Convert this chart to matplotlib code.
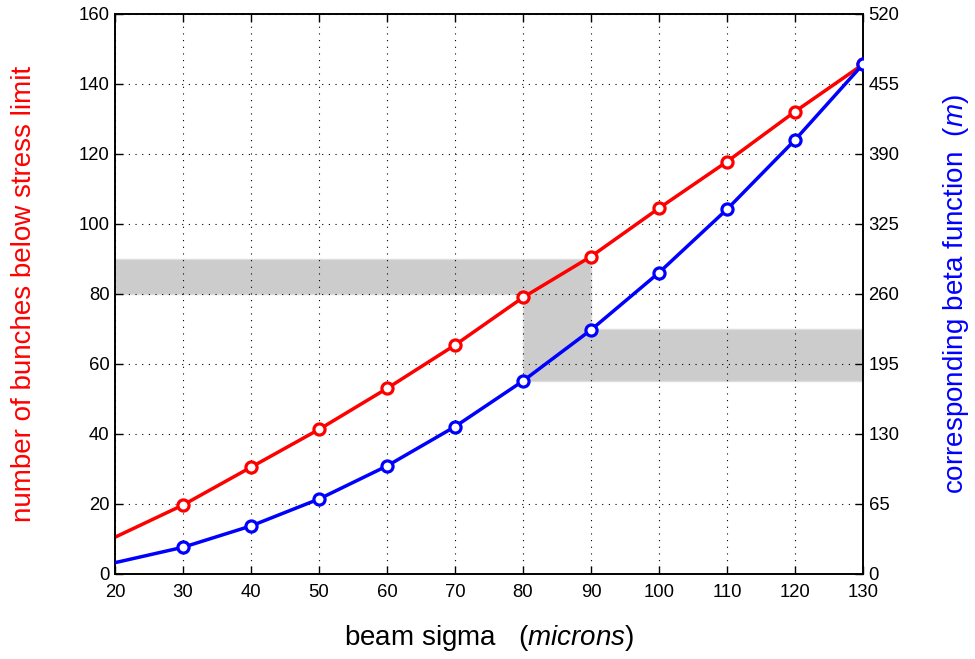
import numpy as np
import matplotlib.pyplot as plt

plt.rcParams['font.family'] = ['Liberation Sans', 'DejaVu Sans']
plt.rcParams['mathtext.fontset'] = 'custom'
plt.rcParams['mathtext.rm'] = 'Liberation Sans'
plt.rcParams['mathtext.it'] = 'Liberation Sans:italic'

# beam sigma (microns)
sigma = [20, 30, 40, 50, 60, 70, 80, 90, 100, 110, 120, 130]
# number of bunches below stress limit (left axis)
bunches = [10.5, 19.7, 30.5, 41.3, 53.0, 65.4, 79.0, 90.7, 104.5, 117.8, 132.1, 145.6]
# corresponding beta function in m (right axis)
beta = [10.5, 24.8, 44.6, 69.6, 100.3, 136.8, 179.2, 226.6, 279.8, 338.6, 403.0, 473.3]

# shaded working region, in left-axis units
band_x = [20, 90, 90, 130, 130, 80, 80, 20]
band_y = [90, 90, 70, 70, 55, 55, 80, 80]

fig = plt.figure(figsize=(9.75, 6.59), dpi=100)
ax = fig.add_axes([0.1179, 0.129, 0.7672, 0.8498])
ax2 = ax.twinx()

ax.fill(band_x, band_y, color='#cccccc', edgecolor='#dddddd', lw=1, zorder=0)

marks = list(range(1, len(sigma)))
ax.plot(sigma, bunches, color='red', lw=2.5, marker='o', markersize=8,
        markerfacecolor='white', markeredgewidth=2.3, markevery=marks, zorder=3)
ax2.plot(sigma, beta, color='blue', lw=2.5, marker='o', markersize=8,
         markerfacecolor='white', markeredgewidth=2.3, markevery=marks, zorder=3)

ax.set_xlim(20, 130)
ax.set_ylim(0, 160)
ax2.set_ylim(0, 520)
ax.set_xticks(range(20, 131, 10))
ax.set_yticks(range(0, 161, 20))
ax2.set_yticks(range(0, 521, 65))

ax.grid(True, color='black', linestyle=(0, (1, 5)), linewidth=0.8)
ax.tick_params(direction='in', length=6, labelsize=13.3, top=True, right=False, width=1, pad=4)
ax2.tick_params(direction='in', length=6, labelsize=13.3, width=1, pad=4)
ax.tick_params(axis='x', pad=7)
for a in (ax, ax2):
    for s in a.spines.values():
        s.set_linewidth(1.2)

ax.set_xlabel('beam sigma   ($\\it{microns}$)', fontsize=20, labelpad=16)
ax.set_ylabel('number of bunches below stress limit', fontsize=20, color='red', labelpad=30)
ax2.set_ylabel('corresponding beta function  ($\\it{m}$)', fontsize=20, color='blue', labelpad=30)

fig.savefig('out.png', dpi=100)
